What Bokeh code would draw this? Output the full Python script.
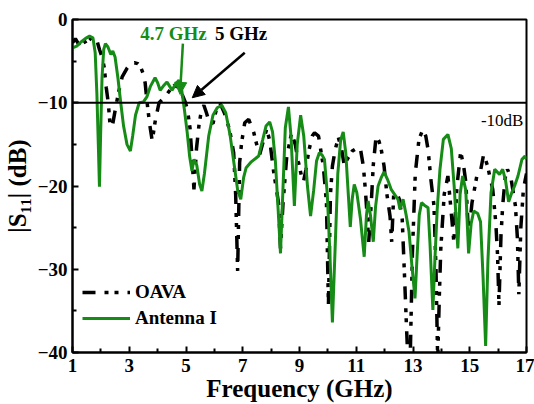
from bokeh.plotting import figure
from bokeh.models import (Legend, LegendItem, Label, Arrow, NormalHead, Span,
                          FixedTicker)
from bokeh.embed import file_html
from bokeh.resources import INLINE

# Reflection coefficient |S11| (dB) versus frequency (GHz)
freq_oava = [1.00, 1.10, 1.22, 1.35, 1.48, 1.60, 1.72, 1.85, 1.95, 2.05, 2.12, 2.19, 2.26, 2.33,
             2.42, 2.52, 2.62, 2.75, 2.93, 3.05, 3.18, 3.30, 3.39, 3.48, 3.56, 3.63, 3.72, 3.81,
             3.91, 4.05, 4.26, 4.45, 4.58, 4.70, 4.79, 4.90, 4.96, 5.05, 5.14, 5.21, 5.28, 5.37,
             5.46, 5.55, 5.63, 5.72, 5.81, 5.95, 6.07, 6.19, 6.35, 6.54, 6.68, 6.75, 6.82, 6.89,
             6.96, 7.07, 7.21, 7.39, 7.49, 7.60, 7.74, 7.84, 7.95, 8.09, 8.26, 8.33, 8.42, 8.55,
             8.65, 8.72, 8.85, 8.96, 9.07, 9.14, 9.23, 9.32, 9.45, 9.53, 9.67, 9.84, 9.95, 10.02,
             10.09, 10.16, 10.26, 10.37, 10.48, 10.58, 10.68, 10.86, 11.00, 11.14, 11.25, 11.32,
             11.39, 11.44, 11.53, 11.60, 11.70, 11.80, 11.88, 11.98, 12.08, 12.19, 12.25, 12.32,
             12.42, 12.52, 12.62, 12.70, 12.76, 12.82, 12.90, 12.98, 13.08, 13.21, 13.35, 13.45,
             13.53, 13.63, 13.74, 13.81, 13.87, 13.93, 13.98, 14.10, 14.23, 14.33, 14.44, 14.55,
             14.68, 14.78, 14.86, 14.96, 15.08, 15.25, 15.39, 15.49, 15.62, 15.81, 15.92, 15.98,
             16.03, 16.10, 16.16, 16.25, 16.33, 16.45, 16.61, 16.68, 16.73, 16.80, 16.89, 17.00]
s11_oava = [-2.8, -2.3, -3.0, -2.2, -2.9, -2.2, -2.6, -2.4, -3.6, -4.6, -5.8, -8.2, -10.0, -12.9,
            -12.5, -10.6, -8.8, -6.9, -5.8, -5.3, -5.2, -5.3, -5.6, -6.4, -7.6, -10.0, -12.6, -14.6,
            -12.3, -10.0, -9.3, -8.4, -7.9, -8.1, -8.4, -9.3, -9.8, -10.8, -13.0, -16.5, -20.4, -15.5,
            -12.6, -10.8, -10.3, -11.2, -12.2, -12.5, -10.8, -10.0, -11.2, -13.3, -16.0, -21.0, -30.2, -17.2,
            -14.8, -12.4, -12.0, -13.6, -15.0, -16.2, -14.4, -13.2, -14.5, -18.3, -22.0, -27.5, -22.0, -16.5,
            -14.8, -13.6, -15.0, -17.1, -18.8, -19.5, -18.0, -15.9, -14.0, -13.6, -14.0, -17.6, -22.0, -34.3,
            -21.0, -17.6, -15.6, -14.2, -15.5, -17.6, -16.8, -15.8, -15.5, -15.4, -17.6, -20.4,
            -23.9, -26.7, -22.0, -17.5, -14.0, -14.6, -15.6, -17.6, -21.0, -23.6, -26.7, -21.0,
            -20.8, -21.6, -24.0, -30.7, -36.0, -41.0, -41.0, -28.0, -18.5, -14.4, -13.2, -14.0,
            -15.6, -19.2, -22.4, -30.0, -41.0, -33.0, -27.5, -21.0, -18.8, -22.5, -26.7, -20.0,
            -15.9, -17.5, -19.5, -25.9, -22.0, -18.8, -18.0, -16.2, -17.5, -20.4, -24.5, -28.3,
            -34.3, -26.0, -22.4, -19.0, -18.0, -19.0, -22.4, -26.3, -33.0, -25.0, -20.4, -18.5]

freq_ant1 = [1.00, 1.15, 1.30, 1.45, 1.60, 1.72, 1.80, 1.86, 1.91, 1.95, 1.99, 2.04, 2.10, 2.16,
             2.25, 2.35, 2.42, 2.50, 2.60, 2.70, 2.80, 2.92, 3.04, 3.12, 3.22, 3.35, 3.50, 3.62,
             3.75, 3.91, 4.00, 4.09, 4.20, 4.33, 4.42, 4.51, 4.62, 4.75, 4.85, 4.95, 5.04, 5.13,
             5.21, 5.28, 5.38, 5.48, 5.56, 5.65, 5.80, 5.95, 6.10, 6.26, 6.40, 6.55, 6.70, 6.82,
             6.93, 7.03, 7.12, 7.30, 7.45, 7.56, 7.70, 7.82, 7.95, 8.05, 8.15, 8.25, 8.33, 8.41,
             8.50, 8.61, 8.70, 8.82, 8.92, 9.04, 9.15, 9.28, 9.39, 9.50, 9.60, 9.70, 9.80, 9.88,
             9.98, 10.07, 10.16, 10.25, 10.35, 10.45, 10.54, 10.63, 10.72, 10.79, 10.86, 10.93,
             11.02, 11.15, 11.28, 11.36, 11.42, 11.50, 11.60, 11.68, 11.77, 11.88, 11.98, 12.10,
             12.23, 12.35, 12.47, 12.54, 12.65, 12.76, 12.86, 12.96, 13.07, 13.15, 13.22, 13.30,
             13.40, 13.53, 13.60, 13.70, 13.77, 13.85, 13.95, 14.07, 14.23, 14.35, 14.45, 14.52,
             14.58, 14.66, 14.75, 14.86, 14.96, 15.05, 15.14, 15.28, 15.38, 15.47, 15.56, 15.64,
             15.75, 15.88, 16.05, 16.16, 16.26, 16.37, 16.48, 16.58, 16.70, 16.84, 16.95, 17.00]
s11_ant1 = [-3.4, -3.2, -2.7, -2.3, -2.0, -2.2, -4.0, -9.0, -15.0, -20.1, -14.0, -7.0, -3.6, -2.9,
            -3.3, -4.2, -3.8, -4.5, -7.0, -10.0, -12.8, -15.0, -15.8, -14.0, -11.5, -10.0, -9.9, -9.3,
            -8.0, -7.0, -7.6, -8.5, -8.0, -7.5, -8.0, -8.5, -7.8, -7.3, -8.5, -11.0, -13.5, -16.5,
            -18.2, -16.8, -17.5, -19.8, -20.6, -18.5, -14.0, -11.5, -10.6, -10.3, -11.2, -13.8, -17.5, -20.5,
            -21.6, -19.0, -17.8, -17.1, -16.7, -16.4, -14.5, -12.8, -12.3, -13.5, -17.0, -23.0, -28.1, -21.0,
            -13.0, -10.5, -14.0, -22.4, -15.0, -11.5, -14.0, -20.0, -23.6, -20.5, -17.0, -16.0, -16.3, -16.8,
            -21.0, -28.0, -36.4, -28.0, -18.5, -14.5, -13.5, -16.0, -21.0, -24.9, -21.5, -19.8,
            -20.8, -24.0, -28.5, -23.5, -21.8, -23.5, -26.7, -22.5, -20.0, -19.0, -18.3, -19.2,
            -20.4, -21.0, -21.6, -22.8, -21.6, -23.5, -25.5, -29.5, -33.5, -28.0, -23.5, -22.0,
            -22.3, -22.6, -27.0, -34.9, -29.0, -23.0, -18.0, -14.4, -13.8, -15.5, -20.0, -24.0,
            -27.5, -21.0, -18.8, -20.5, -28.1, -24.5, -23.0, -23.3, -24.3, -31.0, -39.2, -29.0,
            -20.8, -18.0, -18.6, -18.0, -19.3, -21.9, -20.8, -20.0, -18.8, -16.8, -16.4, -16.8]

x_major = [1, 3, 5, 7, 9, 11, 13, 15, 17]
x_minor = [2, 4, 6, 8, 10, 12, 14, 16]
y_major = [-40, -30, -20, -10, 0]
y_minor = [-35, -25, -15, -5]

threshold_db = -10

SERIF = "Liberation Serif"
GREEN = "#168c16"

p = figure(width=534, height=404, x_range=(1, 17), y_range=(-40, 0),
           output_backend="svg", toolbar_location=None,
           min_border_left=70, min_border_right=8, min_border_top=19, min_border_bottom=49)
p.background_fill_color = "white"
p.border_fill_color = "white"
p.outline_line_color = "black"
p.outline_line_width = 2
p.xgrid.visible = False
p.ygrid.visible = False

# axes
p.xaxis.ticker = FixedTicker(ticks=x_major, minor_ticks=x_minor)
p.yaxis.ticker = FixedTicker(ticks=y_major, minor_ticks=y_minor)
for ax in (p.xaxis[0], p.yaxis[0]):
    ax.axis_line_width = 2
    ax.axis_line_color = "black"
    ax.major_tick_in = 6
    ax.major_tick_out = 0
    ax.minor_tick_in = 4
    ax.minor_tick_out = 0
    ax.major_tick_line_width = 2
    ax.minor_tick_line_width = 2
    ax.major_label_text_font = SERIF
    ax.major_label_text_font_style = "bold"
    ax.major_label_text_font_size = "19px"
    ax.major_label_text_color = "black"
    ax.axis_label_text_font = SERIF
    ax.axis_label_text_font_style = "bold"
    ax.axis_label_text_font_size = "25px"
    ax.axis_label_text_color = "black"

p.xaxis.axis_label = "Frequency (GHz)"
p.yaxis.axis_label = "|S₁₁| (dB)"
p.xaxis.major_label_standoff = 6
p.yaxis.major_label_standoff = 5
p.xaxis.axis_label_standoff = 0
p.yaxis.axis_label_standoff = 4

# -10 dB reference line
p.add_layout(Span(location=threshold_db, dimension="width", line_color="black", line_width=2))

r_oava = p.line(freq_oava, s11_oava, line_color="black", line_width=3.5,
                line_dash="13 9 4 6 4 9")
r_ant = p.line(freq_ant1, s11_ant1, line_color=GREEN, line_width=3)

legend = Legend(items=[LegendItem(label="OAVA", renderers=[r_oava]),
                       LegendItem(label="Antenna I", renderers=[r_ant])],
                location=(10, 23), orientation="vertical",
                background_fill_alpha=0, border_line_alpha=0,
                padding=0, margin=0, spacing=4,
                glyph_width=48, glyph_height=20, label_height=20,
                label_standoff=5,
                label_text_font=SERIF, label_text_font_style="bold",
                label_text_font_size="19px", label_text_color="black")
p.add_layout(legend)

# annotations
p.add_layout(Label(x=16.89, y=-12.1, text="-10dB", text_align="right", text_baseline="middle",
                   text_font=SERIF, text_font_size="17px", text_color="black"))
p.add_layout(Label(x=3.39, y=-1.7, text="4.7 GHz", text_align="left", text_baseline="middle",
                   text_font=SERIF, text_font_style="bold", text_font_size="19px",
                   text_color=GREEN))
p.add_layout(Label(x=6.02, y=-1.7, text="5 GHz", text_align="left", text_baseline="middle",
                   text_font=SERIF, text_font_style="bold", text_font_size="19px",
                   text_color="black"))
p.add_layout(Arrow(x_start=4.89, y_start=-2.9, x_end=4.79, y_end=-9.0,
                   line_color=GREEN, line_width=2.5,
                   end=NormalHead(size=12, fill_color=GREEN, line_color=GREEN)))
p.add_layout(Arrow(x_start=7.07, y_start=-4.0, x_end=5.22, y_end=-9.4,
                   line_color="black", line_width=2.5,
                   end=NormalHead(size=12, fill_color="black", line_color="black")))

open("out.html", "w").write(file_html(p, INLINE))
